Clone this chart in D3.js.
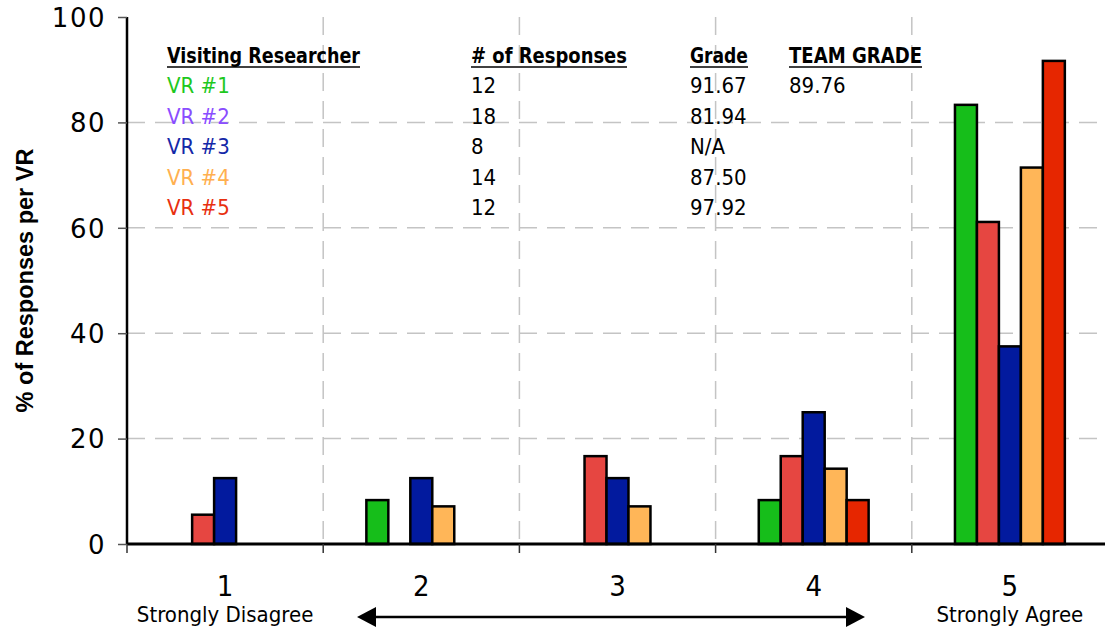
<!DOCTYPE html>
<html>
<head>
<meta charset="utf-8">
<script src="https://cdn.jsdelivr.net/npm/d3@7"></script>
<style>
  html, body { margin: 0; padding: 0; background: #fff; }
  svg { display: block; }
  .cond { font-family: "DejaVu Sans Condensed", "DejaVu Sans", sans-serif; font-stretch: condensed; }
</style>
</head>
<body>
<svg id="chart" width="1105" height="633"></svg>
<script>
// ---------- data ----------
const categories = ["1", "2", "3", "4", "5"];
const categorySubLabels = ["Strongly Disagree", "", "", "", "Strongly Agree"];
const seriesNames = ["VR #1", "VR #2", "VR #3", "VR #4", "VR #5"];
const vr1 = [0, 8.33, 0, 8.33, 83.33];
const vr2 = [5.56, 0, 16.67, 16.67, 61.11];
const vr3 = [12.5, 12.5, 12.5, 25, 37.5];
const vr4 = [0, 7.14, 7.14, 14.29, 71.43];
const vr5 = [0, 0, 0, 8.33, 91.67];
const yTicks = [0, 20, 40, 60, 80, 100];
const numResponses = ["12", "18", "8", "14", "12"];
const grades = ["91.67", "81.94", "N/A", "87.50", "97.92"];
const teamGrade = "89.76";
const tableHeaders = ["Visiting Researcher", "# of Responses", "Grade", "TEAM GRADE"];

const barColors = ["#16be1a", "#e64641", "#021a9e", "#ffb658", "#e62600"];
const textColors = ["#1ec81e", "#8a4dff", "#1428a8", "#ffb050", "#e83010"];
const allSeries = [vr1, vr2, vr3, vr4, vr5];

(function () {
// ---------- layout ----------
const svg = d3.select("#chart");
const pLeft = 127, pRight = 1108, pTop = 17, pBottom = 544;

const x = d3.scaleBand().domain(categories).range([pLeft, pRight]).paddingInner(0).paddingOuter(0);
const bw = x.bandwidth();
const xs = d3.scaleBand().domain(seriesNames).range([bw * 0.22, bw * 0.78]).padding(0);
const y = d3.scaleLinear().domain([0, 100]).range([pBottom, pTop]);

// gridlines horizontal
svg.append("g").selectAll("line").data(yTicks.filter(d => d > 0 && d < 100)).join("line")
  .attr("x1", pLeft).attr("x2", 1105)
  .attr("y1", d => y(d)).attr("y2", d => y(d))
  .attr("stroke", "#c4c4c4").attr("stroke-width", 1.5).attr("stroke-dasharray", "18,10");

// gridlines vertical at category boundaries
const bounds = categories.slice(1).map(c => x(c));
svg.append("g").selectAll("line").data(bounds).join("line")
  .attr("x1", d => d).attr("x2", d => d)
  .attr("y1", pTop).attr("y2", pBottom)
  .attr("stroke", "#c4c4c4").attr("stroke-width", 1.5).attr("stroke-dasharray", "18,10");

// bars
const flat = [];
categories.forEach((c, ci) => {
  seriesNames.forEach((s, si) => {
    const v = allSeries[si][ci];
    if (v > 0) flat.push({ c, s, si, v });
  });
});
svg.append("g").selectAll("rect").data(flat).join("rect")
  .attr("x", d => x(d.c) + xs(d.s))
  .attr("y", d => y(d.v))
  .attr("width", xs.bandwidth())
  .attr("height", d => y(0) - y(d.v))
  .attr("fill", d => barColors[d.si])
  .attr("stroke", "#000").attr("stroke-width", 2.5);

// x axis
const xAxisG = svg.append("g");
xAxisG.append("line").attr("x1", pLeft).attr("x2", 1105).attr("y1", pBottom).attr("y2", pBottom)
  .attr("stroke", "#000").attr("stroke-width", 3);
xAxisG.selectAll("line.tk").data(categories.map(c => x(c))).join("line").attr("class", "tk")
  .attr("x1", d => d).attr("x2", d => d).attr("y1", pBottom).attr("y2", pBottom + 9)
  .attr("stroke", "#333").attr("stroke-width", 1.5);
xAxisG.selectAll("text.cat").data(categories).join("text").attr("class", "cat cond")
  .attr("x", d => x(d) + bw / 2).attr("y", 596)
  .attr("text-anchor", "middle").attr("font-size", 29).attr("fill", "#000")
  .text(d => d);
xAxisG.selectAll("text.sub").data(categories).join("text").attr("class", "sub cond")
  .attr("x", d => x(d) + bw / 2).attr("y", 622)
  .attr("text-anchor", "middle").attr("font-size", 22).attr("fill", "#000")
  .text((d, i) => categorySubLabels[i]);

// arrow
const arrowY = 617;
const ax1 = 357, ax2 = 865, ah = 19, aw = 10;
svg.append("line").attr("x1", ax1 + ah - 2).attr("x2", ax2 - ah + 2).attr("y1", arrowY).attr("y2", arrowY)
  .attr("stroke", "#000").attr("stroke-width", 2.5);
svg.append("path").attr("d", `M${ax1},${arrowY} L${ax1 + ah},${arrowY - aw} L${ax1 + ah},${arrowY + aw} Z`).attr("fill", "#000");
svg.append("path").attr("d", `M${ax2},${arrowY} L${ax2 - ah},${arrowY - aw} L${ax2 - ah},${arrowY + aw} Z`).attr("fill", "#000");

// y axis
const yAxisG = svg.append("g").attr("transform", `translate(${pLeft},0)`)
  .call(d3.axisLeft(y).tickValues(yTicks).tickSize(9).tickPadding(12));
yAxisG.select(".domain").attr("stroke", "#000").attr("stroke-width", 2.5).attr("d", `M0,${pTop}V${pBottom}`);
yAxisG.selectAll(".tick line").attr("stroke", "#555").attr("stroke-width", 1.5);
yAxisG.selectAll(".tick text").attr("font-family", "'DejaVu Sans', sans-serif").attr("font-size", 26)
  .attr("letter-spacing", 1.5).attr("fill", "#000").attr("dy", "0.36em");

// y label
svg.append("text")
  .attr("transform", `translate(33,${(pTop + pBottom) / 2}) rotate(-90)`)
  .attr("text-anchor", "middle")
  .attr("font-family", "'Liberation Sans', Arial, sans-serif").attr("font-weight", "bold")
  .attr("font-size", 23.5).attr("fill", "#000")
  .text("% of Responses per VR");

// table / legend
const colX = [167, 471, 690, 789];
const headerW = [193, 156, 58, 133];
const headerY = 63;
const rowY = [93, 124, 154, 185, 215];
const tbl = svg.append("g").attr("class", "cond").attr("font-size", 22);
tableHeaders.forEach((h, i) => {
  tbl.append("text").attr("x", colX[i]).attr("y", headerY)
    .attr("font-weight", "bold").attr("fill", "#000")
    .attr("textLength", headerW[i]).attr("lengthAdjust", "spacingAndGlyphs").text(h);
  tbl.append("line").attr("x1", colX[i]).attr("x2", colX[i] + headerW[i])
    .attr("y1", headerY + 4).attr("y2", headerY + 4).attr("stroke", "#000").attr("stroke-width", 1.5);
});
seriesNames.forEach((s, i) => {
  tbl.append("text").attr("x", colX[0]).attr("y", rowY[i]).attr("fill", textColors[i]).text(s);
  tbl.append("text").attr("x", colX[1]).attr("y", rowY[i]).attr("fill", "#000").text(numResponses[i]);
  tbl.append("text").attr("x", colX[2]).attr("y", rowY[i]).attr("fill", "#000").text(grades[i]);
});
tbl.append("text").attr("x", colX[3]).attr("y", rowY[0]).attr("fill", "#000").text(teamGrade);
})();
</script>
</body>
</html>
